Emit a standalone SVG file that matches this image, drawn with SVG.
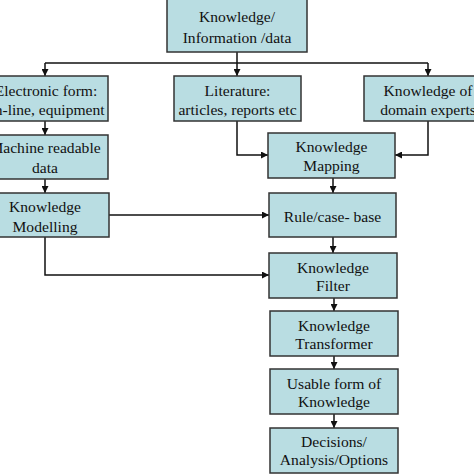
<svg xmlns="http://www.w3.org/2000/svg" width="474" height="474" viewBox="0 0 474 474">
<style>
.box{fill:#b9dde2;stroke:#333;stroke-width:1.5}
.t{font-family:"Liberation Serif","Times New Roman",serif;font-size:15.6px;fill:#111;text-anchor:middle}
.c{fill:none;stroke:#111;stroke-width:1.5}
</style>
<defs>
<marker id="a" viewBox="0 0 10 10" refX="10" refY="5" markerWidth="7" markerHeight="7" markerUnits="userSpaceOnUse" orient="auto">
<path d="M0,0L10,5L0,10z" fill="#111"/>
</marker>
</defs>
<rect width="474" height="474" fill="#fff"/>
<g id="connectors">
<path class="c" d="M237,52V63"/>
<path class="c" d="M45,63H428"/>
<path class="c" d="M45,63V76" marker-end="url(#a)"/>
<path class="c" d="M237,63V76" marker-end="url(#a)"/>
<path class="c" d="M428,63V76" marker-end="url(#a)"/>
<path class="c" d="M45,121V135" marker-end="url(#a)"/>
<path class="c" d="M45,179V193" marker-end="url(#a)"/>
<path class="c" d="M237,121V155H268" marker-end="url(#a)"/>
<path class="c" d="M428,121V155H395" marker-end="url(#a)"/>
<path class="c" d="M333,178V193" marker-end="url(#a)"/>
<path class="c" d="M109,215H269" marker-end="url(#a)"/>
<path class="c" d="M45,237V275H269" marker-end="url(#a)"/>
<path class="c" d="M333,237V253" marker-end="url(#a)"/>
<path class="c" d="M334,298V311" marker-end="url(#a)"/>
<path class="c" d="M334,356V369" marker-end="url(#a)"/>
<path class="c" d="M334,414V428" marker-end="url(#a)"/>
</g>
<g id="n-top"><rect class="box" x="167" y="-1" width="140" height="53"/><text class="t" x="237" y="22">Knowledge/</text><text class="t" x="237" y="43">Information /data</text></g>
<g id="n-electronic"><rect class="box" x="-20" y="76" width="128" height="45"/><text class="t" x="46" y="96">Electronic form:</text><text class="t" x="44" y="115">On-line, equipment</text></g>
<g id="n-literature"><rect class="box" x="174" y="76" width="127" height="45"/><text class="t" x="237.5" y="96">Literature:</text><text class="t" x="237.5" y="115">articles, reports etc</text></g>
<g id="n-experts"><rect class="box" x="364" y="76" width="128" height="45"/><text class="t" x="428" y="96">Knowledge of</text><text class="t" x="428" y="115">domain experts</text></g>
<g id="n-machine"><rect class="box" x="-20" y="135" width="128" height="44"/><text class="t" x="45" y="153">Machine readable</text><text class="t" x="45" y="173">data</text></g>
<g id="n-modelling"><rect class="box" x="-19" y="193" width="128" height="44"/><text class="t" x="45" y="212">Knowledge</text><text class="t" x="45" y="232">Modelling</text></g>
<g id="n-mapping"><rect class="box" x="268" y="133" width="127" height="45"/><text class="t" x="331.5" y="152">Knowledge</text><text class="t" x="331.5" y="171">Mapping</text></g>
<g id="n-rule"><rect class="box" x="269" y="193" width="127" height="44"/><text class="t" x="332.5" y="222">Rule/case- base</text></g>
<g id="n-filter"><rect class="box" x="269" y="253" width="128" height="45"/><text class="t" x="333" y="273">Knowledge</text><text class="t" x="333" y="291">Filter</text></g>
<g id="n-transformer"><rect class="box" x="270" y="311" width="128" height="45"/><text class="t" x="334" y="331">Knowledge</text><text class="t" x="334" y="349">Transformer</text></g>
<g id="n-usable"><rect class="box" x="270" y="369" width="128" height="45"/><text class="t" x="334" y="389">Usable form of</text><text class="t" x="334" y="407">Knowledge</text></g>
<g id="n-decisions"><rect class="box" x="270" y="428" width="128" height="45"/><text class="t" x="334" y="447">Decisions/</text><text class="t" x="334" y="465">Analysis/Options</text></g>
</svg>
